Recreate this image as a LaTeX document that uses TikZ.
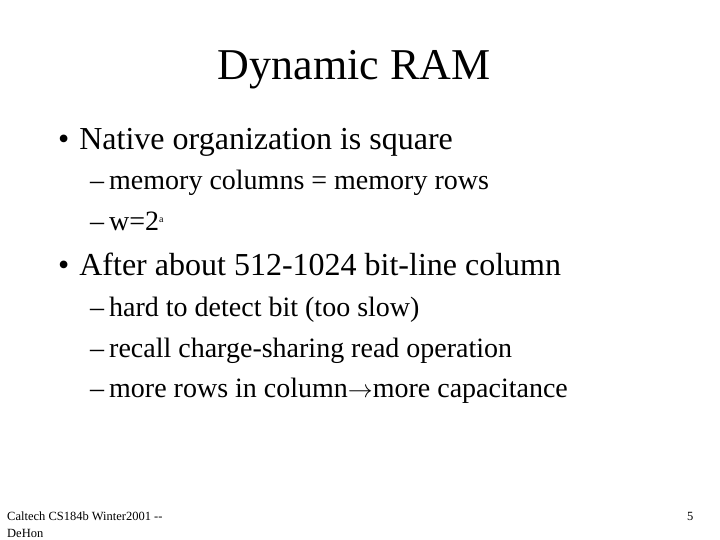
\documentclass[tikz,border=0pt]{standalone}
\usepackage{fontspec}
\setmainfont{Liberation Serif}
\tikzset{
  lvlone/.style={anchor=base west, inner sep=0pt, font=\fontsize{32}{34}\selectfont},
  lvltwo/.style={anchor=base west, inner sep=0pt, font=\fontsize{28}{30}\selectfont},
  foot/.style={anchor=base west, inner sep=0pt, font=\fontsize{12.5}{14}\selectfont, align=left}
}
\begin{document}
\begin{tikzpicture}[x=1pt,y=-1pt]
    \useasboundingbox (0,0) rectangle (720,540);
    \node[anchor=base, inner sep=0pt, font=\fontsize{44}{46}\selectfont] (title) at (354,80) {Dynamic RAM};
    \node[lvlone] (bulA) at (58,150) {\textbullet\hspace{10pt}Native organization is square};
    \node[lvltwo] (subA) at (90,190) {--\hspace{5pt}memory columns = memory rows};
    \node[lvltwo] (subB) at (90,230) {--\hspace{5pt}w=2\raisebox{0.6ex}{\fontsize{10}{10}\selectfont a}};
    \node[lvlone] (bulB) at (58,275) {\textbullet\hspace{10pt}After about 512-1024 bit-line column};
    \node[lvltwo] (subC) at (90,316) {--\hspace{5pt}hard to detect bit (too slow)};
    \node[lvltwo] (subD) at (90,357) {--\hspace{5pt}recall charge-sharing read operation};
    \node[lvltwo] (subE) at (90,397) {--\hspace{5pt}more rows in column$\rightarrow$more capacitance};
    \node[foot] (footA) at (7,520) {Caltech CS184b Winter2001 -{}-};
    \node[foot] (footB) at (7,537) {DeHon};
    \node[foot] (page) at (687,520) {5};
\end{tikzpicture}
\end{document}
